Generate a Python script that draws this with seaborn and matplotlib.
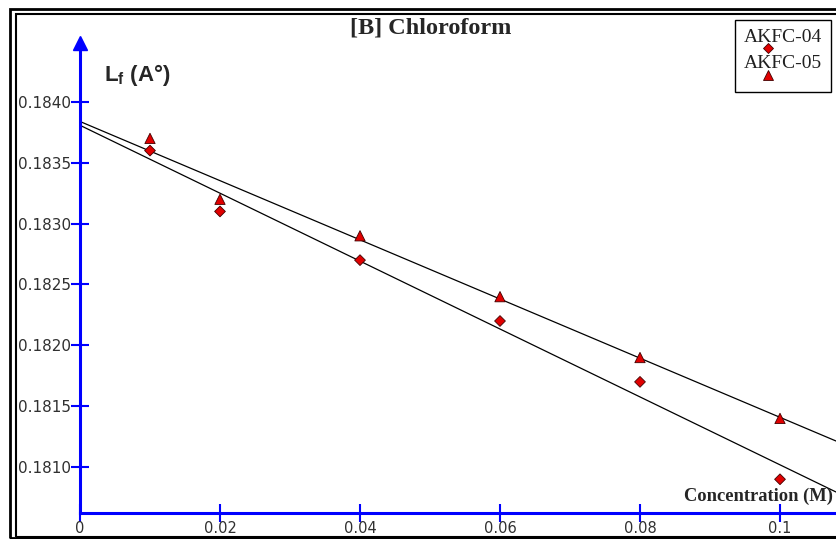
import matplotlib
matplotlib.use('Agg')
import matplotlib.pyplot as plt
from matplotlib.patches import Rectangle
import numpy as np
import pandas as pd
import seaborn as sns

# data
conc = [0.01, 0.02, 0.04, 0.06, 0.08, 0.10]
akfc04 = [0.1836, 0.1831, 0.1827, 0.1822, 0.1817, 0.1809]
akfc05 = [0.1837, 0.1832, 0.1829, 0.1824, 0.1819, 0.1814]
series_names = ['AKFC-04', 'AKFC-05']
x_ticks = [0, 0.02, 0.04, 0.06, 0.08, 0.1]
x_ticklabels = ['0', '0.02', '0.04', '0.06', '0.08', '0.1']
y_ticks = [0.1810, 0.1815, 0.1820, 0.1825, 0.1830, 0.1835, 0.1840]

sns.set_style('white')
plt.rcParams['mathtext.fontset'] = 'custom'
plt.rcParams['mathtext.bf'] = 'Liberation Sans:bold'
plt.rcParams['mathtext.rm'] = 'Liberation Sans'

W, H = 836, 539
fig = plt.figure(figsize=(W / 100, H / 100), dpi=100)

def fx(px):
    return px / W

def fy(py):
    return 1 - py / H

x0, x1 = 80, 836
y_top, y_bot = 43, 513
ax = fig.add_axes([fx(x0), fy(y_bot), fx(x1 - x0), (y_bot - y_top) / H])

df = pd.DataFrame({'conc': conc * 2,
                   'Lf': akfc04 + akfc05,
                   'series': [series_names[0]] * 6 + [series_names[1]] * 6})

xmax = (x1 - x0) / 7000
ymin = 0.1810 - (y_bot - 467) / 61 * 0.0005
ymax = 0.1840 + (102 - y_top) / 61 * 0.0005
ax.set_xlim(0, xmax)
ax.set_ylim(ymin, ymax)

# fitted lines
xs = np.array([0, xmax])
for vals in (akfc04, akfc05):
    k, b = np.polyfit(conc, vals, 1)
    ax.plot(xs, k * xs + b, color='black', lw=0.9, zorder=2)

sns.scatterplot(data=df, x='conc', y='Lf', hue='series', style='series',
                markers={'AKFC-04': 'D', 'AKFC-05': '^'},
                palette={'AKFC-04': '#e00000', 'AKFC-05': '#e00000'},
                size='series', sizes={'AKFC-04': 30, 'AKFC-05': 55},
                edgecolor='#400000', linewidth=0.6, legend=False,
                ax=ax, zorder=3, clip_on=False)

for side in ('top', 'right'):
    ax.spines[side].set_visible(False)
for side in ('left', 'bottom'):
    ax.spines[side].set_color('#0000ff')
    ax.spines[side].set_linewidth(2.2)

ax.set_xticks(x_ticks)
ax.set_xticklabels(x_ticklabels, family='DejaVu Sans', fontsize=10.5)
ax.set_yticks(y_ticks)
ax.set_yticklabels([f'{v:.4f}' for v in y_ticks], family='DejaVu Sans', fontsize=11)
ax.tick_params(axis='both', direction='inout', length=13, width=1.5,
               color='#0000ff', labelcolor='#303030', bottom=True, left=True)
ax.tick_params(axis='x', pad=-1)
ax.tick_params(axis='y', pad=0)
ax.set_xlabel('')
ax.set_ylabel('')

# arrow on the y axis
ax.plot([0], [ymax], marker='^', markersize=10, color='#0000ff',
        clip_on=False, zorder=5)

# texts
fig.text(fx(431), fy(28), '[B] Chloroform', family='Liberation Serif',
         fontweight='bold', fontsize=17.5, ha='center', va='center')
fig.text(fx(104), fy(75), r'$\mathbf{L}_\mathbf{f}$' + ' (A°)', family='Liberation Sans',
         fontweight='bold', fontsize=16, ha='left', va='center')
fig.text(fx(833), fy(496), 'Concentration (M)', family='Liberation Serif',
         fontweight='bold', fontsize=13.3, ha='right', va='center')

# legend box
fig.add_artist(Rectangle((fx(735), fy(92)), fx(96), (92 - 20) / H,
                         transform=fig.transFigure, fill=False, ec='black', lw=1))
for name, ty, my, mk, ms in ((series_names[0], 37, 48, 'D', 5.5),
                             (series_names[1], 64, 75, '^', 7.5)):
    fig.text(fx(783), fy(ty), name, family='Liberation Serif', fontsize=14,
             ha='center', va='center', color='#202020')
    fig.add_artist(plt.Line2D([fx(768)], [fy(my)], marker=mk, markersize=ms,
                              color='#e00000', markeredgecolor='#400000',
                              markeredgewidth=0.6, transform=fig.transFigure))

# double frame around the picture
fig.add_artist(Rectangle((fx(10), fy(538)), 2, fy(9) - fy(538),
                         transform=fig.transFigure, fill=False, ec='black', lw=2))
fig.add_artist(Rectangle((fx(15.5), fy(537)), 2, fy(14) - fy(537),
                         transform=fig.transFigure, fill=False, ec='black', lw=1.5))

fig.savefig('out.png', dpi=100)
